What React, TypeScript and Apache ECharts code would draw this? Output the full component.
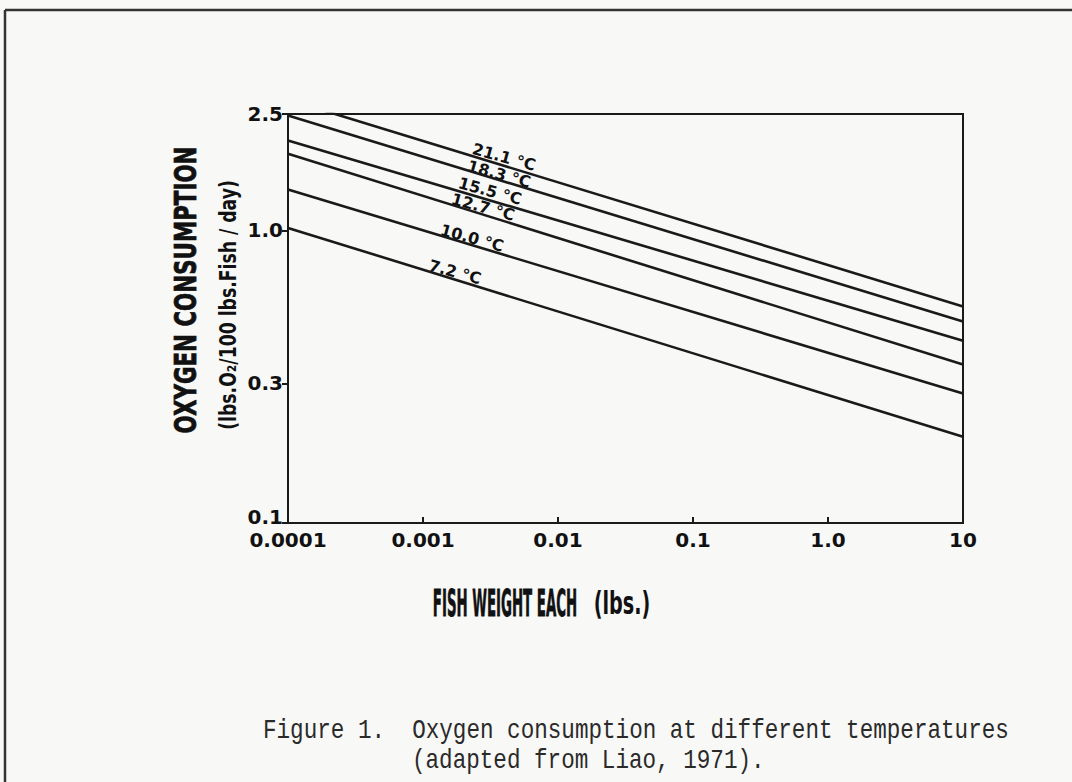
import { useEffect, useRef } from 'react';
import * as echarts from 'echarts';

// ---- data ----
const temperatureLabels = ['21.1 °C', '18.3 °C', '15.5 °C', '12.7 °C', '10.0 °C', '7.2 °C'];
const fishWeightEnds = [0.0001, 10]; // lbs
const o2At21_1 = [2.8, 0.55];
const o2At18_3 = [2.47, 0.488];
const o2At15_5 = [2.03, 0.42];
const o2At12_7 = [1.83, 0.348];
const o2At10_0 = [1.38, 0.277];
const o2At7_2 = [1.02, 0.197];
const xTickLabels = ['0.0001', '0.001', '0.01', '0.1', '1.0', '10'];
const yTickValues = [0.1, 0.3, 1.0, 2.5];
const yTickLabels = ['0.1', '0.3', '1.0', '2.5'];

const seriesValues = [o2At21_1, o2At18_3, o2At15_5, o2At12_7, o2At10_0, o2At7_2];

const INK = '#1a1a1a';

export default function App() {
  const ref = useRef<HTMLDivElement>(null);

  useEffect(() => {
    if (!ref.current) return;
    const chart = echarts.init(ref.current, null, { renderer: 'svg' });

    const yLog = yTickValues.map((v) => Math.log10(v));
    const yLabelFor = (v: number) => {
      const i = yLog.findIndex((t) => Math.abs(t - v) < 1e-6);
      if (i < 0) return '';
      return i === 0 ? '{low|' + yTickLabels[i] + '}' : yTickLabels[i];
    };

    const labelPos = [
      [504, 157],
      [499, 174],
      [490, 191],
      [483, 207],
      [472, 238],
      [455, 272],
    ];

    const tickFont = {
      color: '#111',
      fontFamily: 'DejaVu Sans',
      fontWeight: 'bold',
      fontSize: 20,
    };

    const option: any = {
      animation: false,
      backgroundColor: '#f8f8f7',
      grid: {
        left: 288,
        top: 114,
        width: 675,
        height: 409,
        show: true,
        borderColor: INK,
        borderWidth: 2,
        backgroundColor: 'transparent',
      },
      xAxis: {
        type: 'log',
        logBase: 10,
        min: 0.0001,
        max: 10,
        splitNumber: 5,
        axisLine: { show: true, onZero: false, lineStyle: { color: INK, width: 2 } },
        axisTick: { show: true, inside: true, length: 6, lineStyle: { color: INK, width: 2 } },
        splitLine: { show: false },
        minorTick: { show: false },
        axisLabel: {
          margin: 7,
          ...tickFont,
          formatter: (v: number) => xTickLabels[Math.round(Math.log10(v)) + 4] ?? '',
        },
      },
      yAxis: {
        type: 'value',
        min: Math.log10(0.1),
        max: Math.log10(2.5),
        axisLine: { show: true, onZero: false, lineStyle: { color: INK, width: 2 } },
        axisTick: {
          show: true,
          length: 6,
          customValues: yLog,
          lineStyle: { color: INK, width: 2 },
        },
        splitLine: { show: false },
        axisLabel: {
          margin: 5,
          ...tickFont,
          customValues: yLog,
          formatter: yLabelFor,
          rich: {
            low: { ...tickFont, padding: [0, 0, 12, 0] },
          },
        },
      },
      series: seriesValues.map((vals, si) => ({
        type: 'line',
        name: temperatureLabels[si],
        symbol: 'none',
        clip: true,
        lineStyle: { color: INK, width: 2.6 },
        data: fishWeightEnds.map((w, i) => [w, Math.log10(vals[i])]),
      })),
      graphic: [
        // page frame (scanned sheet border)
        { type: 'line', shape: { x1: 5, y1: 10, x2: 1072, y2: 10 }, style: { stroke: '#333', lineWidth: 2.5 } },
        { type: 'line', shape: { x1: 5, y1: 10, x2: 5, y2: 782 }, style: { stroke: '#333', lineWidth: 2.5 } },
        // y axis titles
        {
          type: 'text',
          x: 185,
          y: 290,
          rotation: Math.PI / 2,
          scaleX: 0.69,
          style: {
            text: 'OXYGEN CONSUMPTION',
            fill: '#111',
            font: 'bold 31px "DejaVu Sans"',
            textAlign: 'center',
            textVerticalAlign: 'middle',
            stroke: '#111',
            lineWidth: 0.8,
          },
        },
        {
          type: 'text',
          x: 228,
          y: 305,
          rotation: Math.PI / 2,
          scaleX: 0.75,
          style: {
            text: '(lbs.O₂/100 lbs.Fish / day)',
            fill: '#111',
            font: 'bold 23px "DejaVu Sans"',
            textAlign: 'center',
            textVerticalAlign: 'middle',
          },
        },
        // x axis title
        {
          type: 'text',
          x: 505,
          y: 603,
          scaleX: 0.36,
          style: {
            text: 'FISH WEIGHT EACH',
            fill: '#111',
            font: 'bold 37px "DejaVu Sans"',
            textAlign: 'center',
            textVerticalAlign: 'middle',
            stroke: '#111',
            lineWidth: 0.8,
          },
        },
        {
          type: 'text',
          x: 622,
          y: 603,
          scaleX: 0.6,
          style: {
            text: '(lbs.)',
            fill: '#111',
            font: 'bold 32px "DejaVu Sans"',
            textAlign: 'center',
            textVerticalAlign: 'middle',
          },
        },
        // temperature labels along the lines
        ...temperatureLabels.map((t, i) => ({
          type: 'text',
          x: labelPos[i][0],
          y: labelPos[i][1],
          rotation: -0.27,
          style: {
            text: t,
            fill: '#111',
            font: 'bold 16px "DejaVu Sans"',
            textAlign: 'center',
            textVerticalAlign: 'middle',
          },
        })),
        // caption
        {
          type: 'text',
          x: 263,
          y: 731,
          scaleY: 1.25,
          style: {
            text: 'Figure 1.  Oxygen consumption at different temperatures',
            fill: '#2a2a2a',
            font: '22.6px "Liberation Mono"',
            textAlign: 'left',
            textVerticalAlign: 'middle',
          },
        },
        {
          type: 'text',
          x: 412,
          y: 761,
          scaleY: 1.25,
          style: {
            text: '(adapted from Liao, 1971).',
            fill: '#2a2a2a',
            font: '22.6px "Liberation Mono"',
            textAlign: 'left',
            textVerticalAlign: 'middle',
          },
        },
      ],
    };

    chart.setOption(option);
    return () => chart.dispose();
  }, []);

  return (
    <div
      ref={ref}
      style={{ position: 'fixed', left: 0, top: 0, width: 1072, height: 782 }}
    />
  );
}
